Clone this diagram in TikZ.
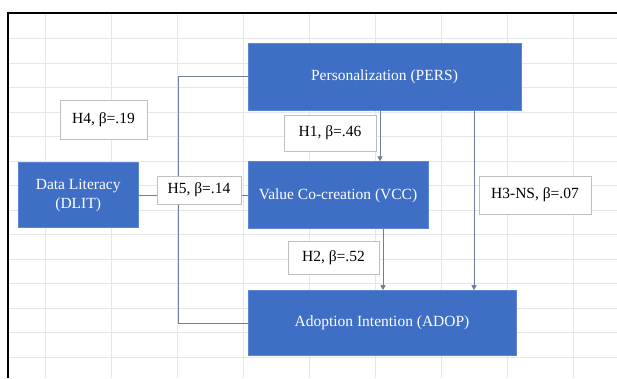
\documentclass[tikz,border=0pt]{standalone}
\usepackage{fontspec}
\setmainfont{Liberation Serif}
\usepackage{xcolor}
\usetikzlibrary{
arrows.meta,
positioning,
backgrounds
}
\definecolor{blkblue}{HTML}{3F6FC5}
\definecolor{blkedge}{HTML}{5B86D2}
\definecolor{conn}{HTML}{6F7F99}
\definecolor{gridgray}{HTML}{E4E6EA}

\begin{document}
\begin{tikzpicture}[x=1pt, y=-1pt,
    construct/.style={shape=rectangle, fill=blkblue, draw=blkedge, line width=0.8pt,
      text=white, font=\fontsize{15.5}{19}\selectfont, align=center, inner sep=0pt},
    coef/.style={shape=rectangle, fill=white, draw=black!25, line width=0.7pt,
      font=\fontsize{15.5}{19}\selectfont, inner sep=0pt},
    path/.style={draw=conn, line width=0.9pt},
    gridln/.style={draw=gridgray, line width=0.6pt}]
    \useasboundingbox (0,0) rectangle (617,378);
    \node [construct, minimum width=273, minimum height=67] (pers) at (384.5,76.5) {Personalization (PERS)};
    \node [construct, minimum width=180, minimum height=67, below = 51pt of pers.south west, anchor=north west] (vcc) {Value Co-creation (VCC)};
    \node [construct, minimum width=268, minimum height=65, below = 61pt of vcc.south west, anchor=north west] (adop) {Adoption Intention (ADOP)};
    \node [construct, minimum width=120, minimum height=65, left = 109pt of vcc.west, anchor=east] (dlit) {Data Literacy\\(DLIT)};
    \node [coef, minimum width=87, minimum height=39] (h4) at (103.5,119.5) {H4, β=.19};
    \node [coef, minimum width=92, minimum height=36] (h1) at (330,133) {H1, β=.46};
    \node [coef, minimum width=84, minimum height=28] (h5) at (199,190) {H5, β=.14};
    \node [coef, minimum width=91, minimum height=33] (h2) at (333.5,257.5) {H2, β=.52};
    \node [coef, minimum width=112, minimum height=38] (h3) at (535,195) {H3-NS, β=.07};
    \coordinate (brk) at (178,0);
    \begin{scope}[on background layer]
      % spreadsheet grid behind the model
      \foreach \x in {45,111,...,573} \draw[gridln] (\x,13) -- (\x,378);
      \foreach \k in {0,...,13} \draw[gridln] (8,38.5+24.5*\k) -- (617,38.5+24.5*\k);
      \draw[line width=1.3pt] (8,378) -- (8,13) -- (617,13);
      \draw[path] (pers.west) -- (pers.west -| brk) -- (adop.west -| brk) -- (adop.west);
      \draw[path] (dlit.east) -- (vcc.west);
      \draw[path,-{Triangle[length=5pt,width=5pt]}] ([xshift=42pt]vcc.north |- pers.south) -- ([xshift=42pt]vcc.north);
      \draw[path,-{Triangle[length=5pt,width=5pt]}] ([xshift=45pt]vcc.south) -- ([xshift=45pt]vcc.south |- adop.north);
      \draw[path,-{Triangle[length=5pt,width=5pt]}] ([xshift=89.5pt]pers.south) -- ([xshift=89.5pt]pers.south |- adop.north);
    \end{scope}
\end{tikzpicture}
\end{document}
